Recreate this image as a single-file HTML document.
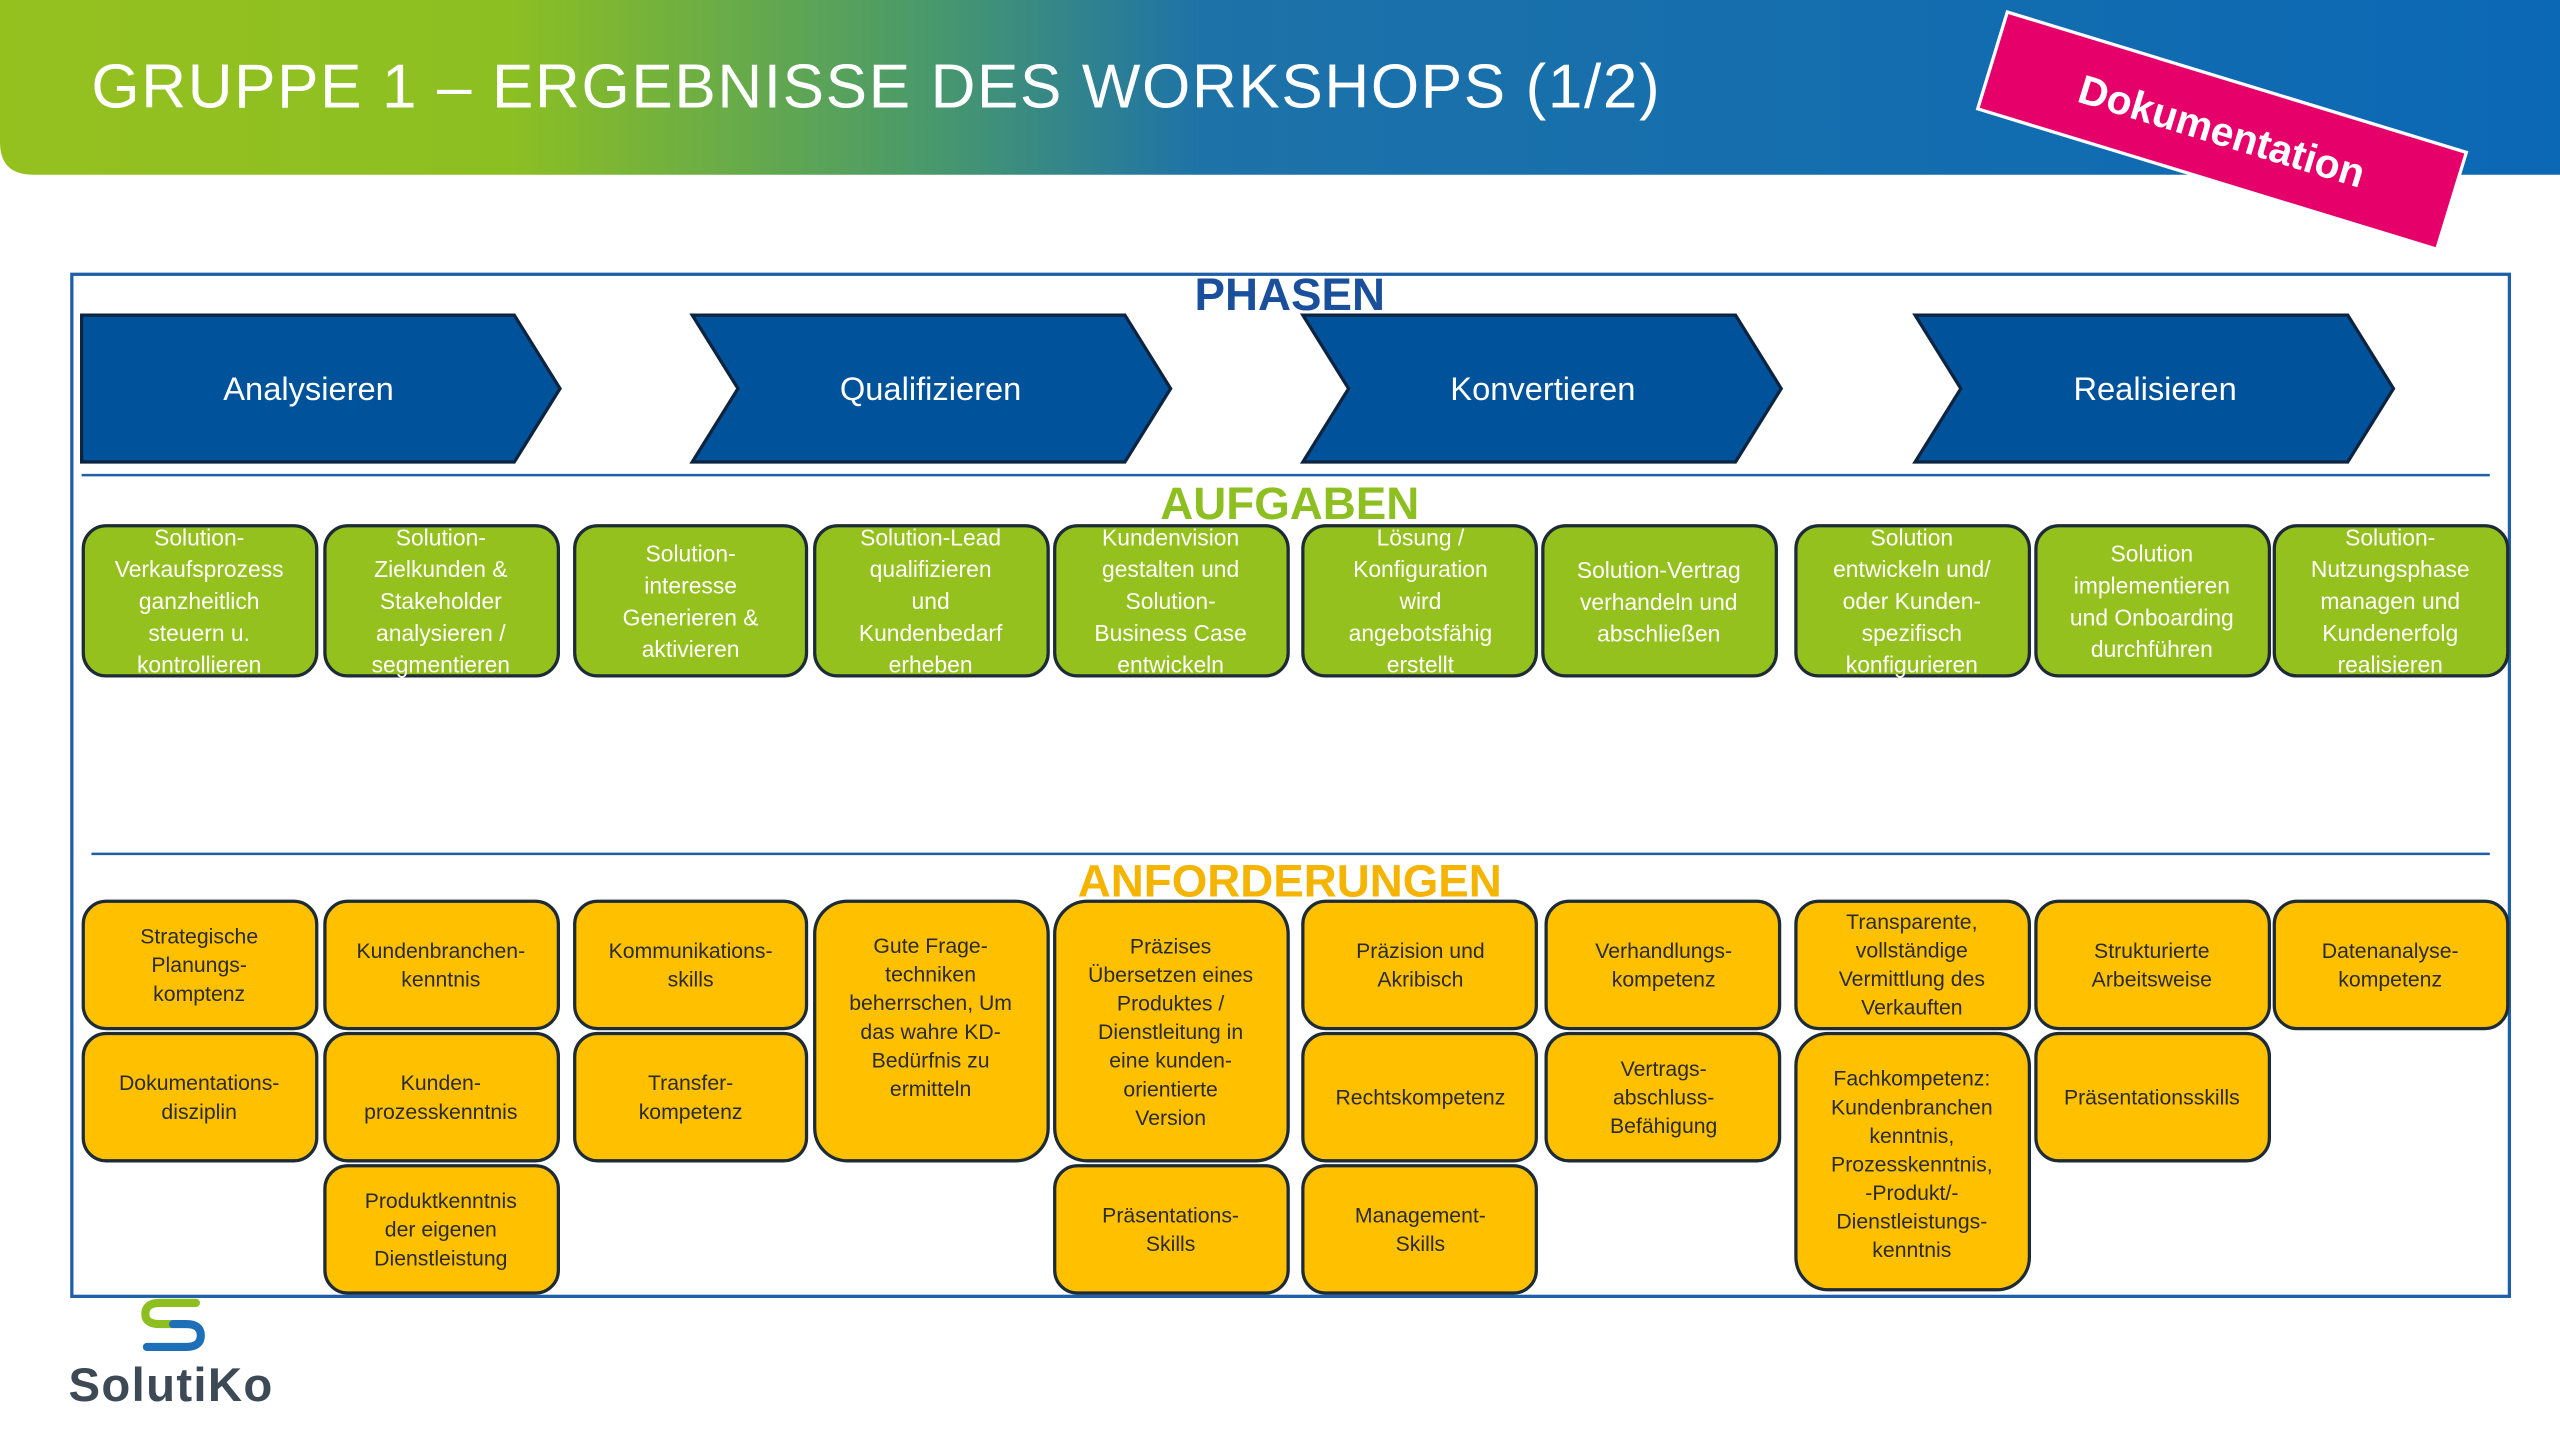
<!DOCTYPE html>
<html><head><meta charset="utf-8"><style>
html,body{margin:0;padding:0;background:#fff;}
svg{display:block;}
text{font-family:"Liberation Sans",sans-serif;}
.ph{fill:#fff;font-size:20px;text-anchor:middle;}
.g text,.g{fill:#fff;font-size:14px;text-anchor:middle;}
.y{fill:#2b2b2b;font-size:13px;text-anchor:middle;}
.gb{fill:#95c11f;stroke:#1c2b36;stroke-width:2;}
.yb{fill:#ffc000;stroke:#1c2b36;stroke-width:2;}
.chev{fill:#00529b;stroke:#0d2440;stroke-width:2;}
</style></head><body>
<svg width="2560" height="1440" viewBox="0 0 1568 882" xmlns="http://www.w3.org/2000/svg">
<defs>
<linearGradient id="hg" x1="0" y1="0" x2="1" y2="0">
<stop offset="0" stop-color="#95c11f"/>
<stop offset="0.2" stop-color="#8cbf22"/>
<stop offset="0.36" stop-color="#4a9a6a"/>
<stop offset="0.47" stop-color="#1d72a8"/>
<stop offset="1" stop-color="#0b68b5"/>
</linearGradient>
</defs>
<path d="M0 0 H1568 V107 H20 Q0 107 0 87 Z" fill="url(#hg)"/>
<text x="56" y="66" fill="#fff" font-size="38" style="letter-spacing:1px">GRUPPE 1 – ERGEBNISSE DES WORKSHOPS (1/2)</text>
<g transform="translate(1361,80) rotate(17)">
<rect x="-147" y="-31" width="294" height="62" fill="#e5006a" stroke="#fff" stroke-width="2"/>
<text x="0" y="9" fill="#fff" font-size="25" font-weight="bold" text-anchor="middle">Dokumentation</text>
</g>
<rect x="44" y="168" width="1493" height="626" fill="none" stroke="#1f5fa8" stroke-width="2"/>
<text x="790" y="190" fill="#1a4f9c" font-size="28" font-weight="bold" text-anchor="middle">PHASEN</text>
<polygon class="chev" points="50,193 315,193 343,238 315,283 50,283"/>
<polygon class="chev" points="424,193 689,193 717,238 689,283 424,283 452,238"/>
<polygon class="chev" points="798,193 1063,193 1091,238 1063,283 798,283 826,238"/>
<polygon class="chev" points="1173,193 1438,193 1466,238 1438,283 1173,283 1201,238"/>
<text class="ph" x="189" y="245">Analysieren</text>
<text class="ph" x="570" y="245">Qualifizieren</text>
<text class="ph" x="945" y="245">Konvertieren</text>
<text class="ph" x="1320" y="245">Realisieren</text>
<line x1="50" y1="291" x2="1525" y2="291" stroke="#1f5fa8" stroke-width="1.5"/>
<text x="790" y="318" fill="#8cbf1f" font-size="28" font-weight="bold" text-anchor="middle">AUFGABEN</text>
<g>
<rect class="gb" x="51" y="322" width="143" height="92" rx="14"/>
<rect class="gb" x="199" y="322" width="143" height="92" rx="14"/>
<rect class="gb" x="352" y="322" width="142" height="92" rx="14"/>
<rect class="gb" x="499" y="322" width="143" height="92" rx="14"/>
<rect class="gb" x="646" y="322" width="143" height="92" rx="14"/>
<rect class="gb" x="798" y="322" width="143" height="92" rx="14"/>
<rect class="gb" x="945" y="322" width="143" height="92" rx="14"/>
<rect class="gb" x="1100" y="322" width="143" height="92" rx="14"/>
<rect class="gb" x="1247" y="322" width="143" height="92" rx="14"/>
<rect class="gb" x="1393" y="322" width="143" height="92" rx="14"/>
</g>
<g class="g">
<text y="334"><tspan x="122" >Solution-</tspan><tspan x="122" dy="19.5">Verkaufsprozess</tspan><tspan x="122" dy="19.5">ganzheitlich</tspan><tspan x="122" dy="19.5">steuern u.</tspan><tspan x="122" dy="19.5">kontrollieren</tspan></text>
<text y="334"><tspan x="270">Solution-</tspan><tspan x="270" dy="19.5">Zielkunden &amp;</tspan><tspan x="270" dy="19.5">Stakeholder</tspan><tspan x="270" dy="19.5">analysieren /</tspan><tspan x="270" dy="19.5">segmentieren</tspan></text>
<text y="344"><tspan x="423">Solution-</tspan><tspan x="423" dy="19.5">interesse</tspan><tspan x="423" dy="19.5">Generieren &amp;</tspan><tspan x="423" dy="19.5">aktivieren</tspan></text>
<text y="334"><tspan x="570">Solution-Lead</tspan><tspan x="570" dy="19.5">qualifizieren</tspan><tspan x="570" dy="19.5">und</tspan><tspan x="570" dy="19.5">Kundenbedarf</tspan><tspan x="570" dy="19.5">erheben</tspan></text>
<text y="334"><tspan x="717">Kundenvision</tspan><tspan x="717" dy="19.5">gestalten und</tspan><tspan x="717" dy="19.5">Solution-</tspan><tspan x="717" dy="19.5">Business Case</tspan><tspan x="717" dy="19.5">entwickeln</tspan></text>
<text y="334"><tspan x="870">Lösung /</tspan><tspan x="870" dy="19.5">Konfiguration</tspan><tspan x="870" dy="19.5">wird</tspan><tspan x="870" dy="19.5">angebotsfähig</tspan><tspan x="870" dy="19.5">erstellt</tspan></text>
<text y="354"><tspan x="1016">Solution-Vertrag</tspan><tspan x="1016" dy="19.5">verhandeln und</tspan><tspan x="1016" dy="19.5">abschließen</tspan></text>
<text y="334"><tspan x="1171">Solution</tspan><tspan x="1171" dy="19.5">entwickeln und/</tspan><tspan x="1171" dy="19.5">oder Kunden-</tspan><tspan x="1171" dy="19.5">spezifisch</tspan><tspan x="1171" dy="19.5">konfigurieren</tspan></text>
<text y="344"><tspan x="1318">Solution</tspan><tspan x="1318" dy="19.5">implementieren</tspan><tspan x="1318" dy="19.5">und Onboarding</tspan><tspan x="1318" dy="19.5">durchführen</tspan></text>
<text y="334"><tspan x="1464">Solution-</tspan><tspan x="1464" dy="19.5">Nutzungsphase</tspan><tspan x="1464" dy="19.5">managen und</tspan><tspan x="1464" dy="19.5">Kundenerfolg</tspan><tspan x="1464" dy="19.5">realisieren</tspan></text>
</g>
<line x1="56" y1="523" x2="1525" y2="523" stroke="#1f5fa8" stroke-width="1.5"/>
<text x="790" y="549" fill="#f5b400" font-size="28" font-weight="bold" text-anchor="middle">ANFORDERUNGEN</text>
<g>
<rect class="yb" x="51" y="552" width="143" height="78" rx="14"/>
<rect class="yb" x="51" y="633" width="143" height="78" rx="14"/>
<rect class="yb" x="199" y="552" width="143" height="78" rx="14"/>
<rect class="yb" x="199" y="633" width="143" height="78" rx="14"/>
<rect class="yb" x="199" y="714" width="143" height="78" rx="14"/>
<rect class="yb" x="352" y="552" width="142" height="78" rx="14"/>
<rect class="yb" x="352" y="633" width="142" height="78" rx="14"/>
<rect class="yb" x="499" y="552" width="143" height="159" rx="20"/>
<rect class="yb" x="646" y="552" width="143" height="159" rx="20"/>
<rect class="yb" x="646" y="714" width="143" height="78" rx="14"/>
<rect class="yb" x="798" y="552" width="143" height="78" rx="14"/>
<rect class="yb" x="798" y="633" width="143" height="78" rx="14"/>
<rect class="yb" x="798" y="714" width="143" height="78" rx="14"/>
<rect class="yb" x="947" y="552" width="143" height="78" rx="14"/>
<rect class="yb" x="947" y="633" width="143" height="78" rx="14"/>
<rect class="yb" x="1100" y="552" width="143" height="78" rx="14"/>
<rect class="yb" x="1100" y="633" width="143" height="157" rx="20"/>
<rect class="yb" x="1247" y="552" width="143" height="78" rx="14"/>
<rect class="yb" x="1247" y="633" width="143" height="78" rx="14"/>
<rect class="yb" x="1393" y="552" width="143" height="78" rx="14"/>
</g>
<g class="y">
<text y="578"><tspan x="122">Strategische</tspan><tspan x="122" dy="17.5">Planungs-</tspan><tspan x="122" dy="17.5">komptenz</tspan></text>
<text y="667.75"><tspan x="122">Dokumentations-</tspan><tspan x="122" dy="17.5">disziplin</tspan></text>
<text y="586.75"><tspan x="270">Kundenbranchen-</tspan><tspan x="270" dy="17.5">kenntnis</tspan></text>
<text y="667.75"><tspan x="270">Kunden-</tspan><tspan x="270" dy="17.5">prozesskenntnis</tspan></text>
<text y="740"><tspan x="270">Produktkenntnis</tspan><tspan x="270" dy="17.5">der eigenen</tspan><tspan x="270" dy="17.5">Dienstleistung</tspan></text>
<text y="586.75"><tspan x="423">Kommunikations-</tspan><tspan x="423" dy="17.5">skills</tspan></text>
<text y="667.75"><tspan x="423">Transfer-</tspan><tspan x="423" dy="17.5">kompetenz</tspan></text>
<text y="583.75"><tspan x="570">Gute Frage-</tspan><tspan x="570" dy="17.5">techniken</tspan><tspan x="570" dy="17.5">beherrschen, Um</tspan><tspan x="570" dy="17.5">das wahre KD-</tspan><tspan x="570" dy="17.5">Bedürfnis zu</tspan><tspan x="570" dy="17.5">ermitteln</tspan></text>
<text y="584"><tspan x="717">Präzises</tspan><tspan x="717" dy="17.5">Übersetzen eines</tspan><tspan x="717" dy="17.5">Produktes /</tspan><tspan x="717" dy="17.5">Dienstleitung in</tspan><tspan x="717" dy="17.5">eine kunden-</tspan><tspan x="717" dy="17.5">orientierte</tspan><tspan x="717" dy="17.5">Version</tspan></text>
<text y="748.75"><tspan x="717">Präsentations-</tspan><tspan x="717" dy="17.5">Skills</tspan></text>
<text y="586.75"><tspan x="870">Präzision und</tspan><tspan x="870" dy="17.5">Akribisch</tspan></text>
<text y="676.5"><tspan x="870">Rechtskompetenz</tspan></text>
<text y="748.75"><tspan x="870">Management-</tspan><tspan x="870" dy="17.5">Skills</tspan></text>
<text y="586.75"><tspan x="1019">Verhandlungs-</tspan><tspan x="1019" dy="17.5">kompetenz</tspan></text>
<text y="659"><tspan x="1019">Vertrags-</tspan><tspan x="1019" dy="17.5">abschluss-</tspan><tspan x="1019" dy="17.5">Befähigung</tspan></text>
<text y="569"><tspan x="1171">Transparente,</tspan><tspan x="1171" dy="17.5">vollständige</tspan><tspan x="1171" dy="17.5">Vermittlung des</tspan><tspan x="1171" dy="17.5">Verkauften</tspan></text>
<text y="665"><tspan x="1171">Fachkompetenz:</tspan><tspan x="1171" dy="17.5">Kundenbranchen</tspan><tspan x="1171" dy="17.5">kenntnis,</tspan><tspan x="1171" dy="17.5">Prozesskenntnis,</tspan><tspan x="1171" dy="17.5">-Produkt/-</tspan><tspan x="1171" dy="17.5">Dienstleistungs-</tspan><tspan x="1171" dy="17.5">kenntnis</tspan></text>
<text y="586.75"><tspan x="1318">Strukturierte</tspan><tspan x="1318" dy="17.5">Arbeitsweise</tspan></text>
<text y="676.5"><tspan x="1318">Präsentationsskills</tspan></text>
<text y="586.75"><tspan x="1464">Datenanalyse-</tspan><tspan x="1464" dy="17.5">kompetenz</tspan></text>
</g>
<g fill="none" stroke-width="5" stroke-linecap="round">
<path d="M120 798 H98 Q89 798 89 805 Q89 811 98 811 H106" stroke="#8cbf1f"/>
<path d="M106 811 H114 Q123 811 123 818 Q123 825 114 825 H90" stroke="#1d6fb8"/>
</g>
<text x="42" y="858" fill="#3d4a55" font-size="29" font-weight="bold" style="letter-spacing:0.8px">SolutiKo</text>
</svg>
</body></html>
